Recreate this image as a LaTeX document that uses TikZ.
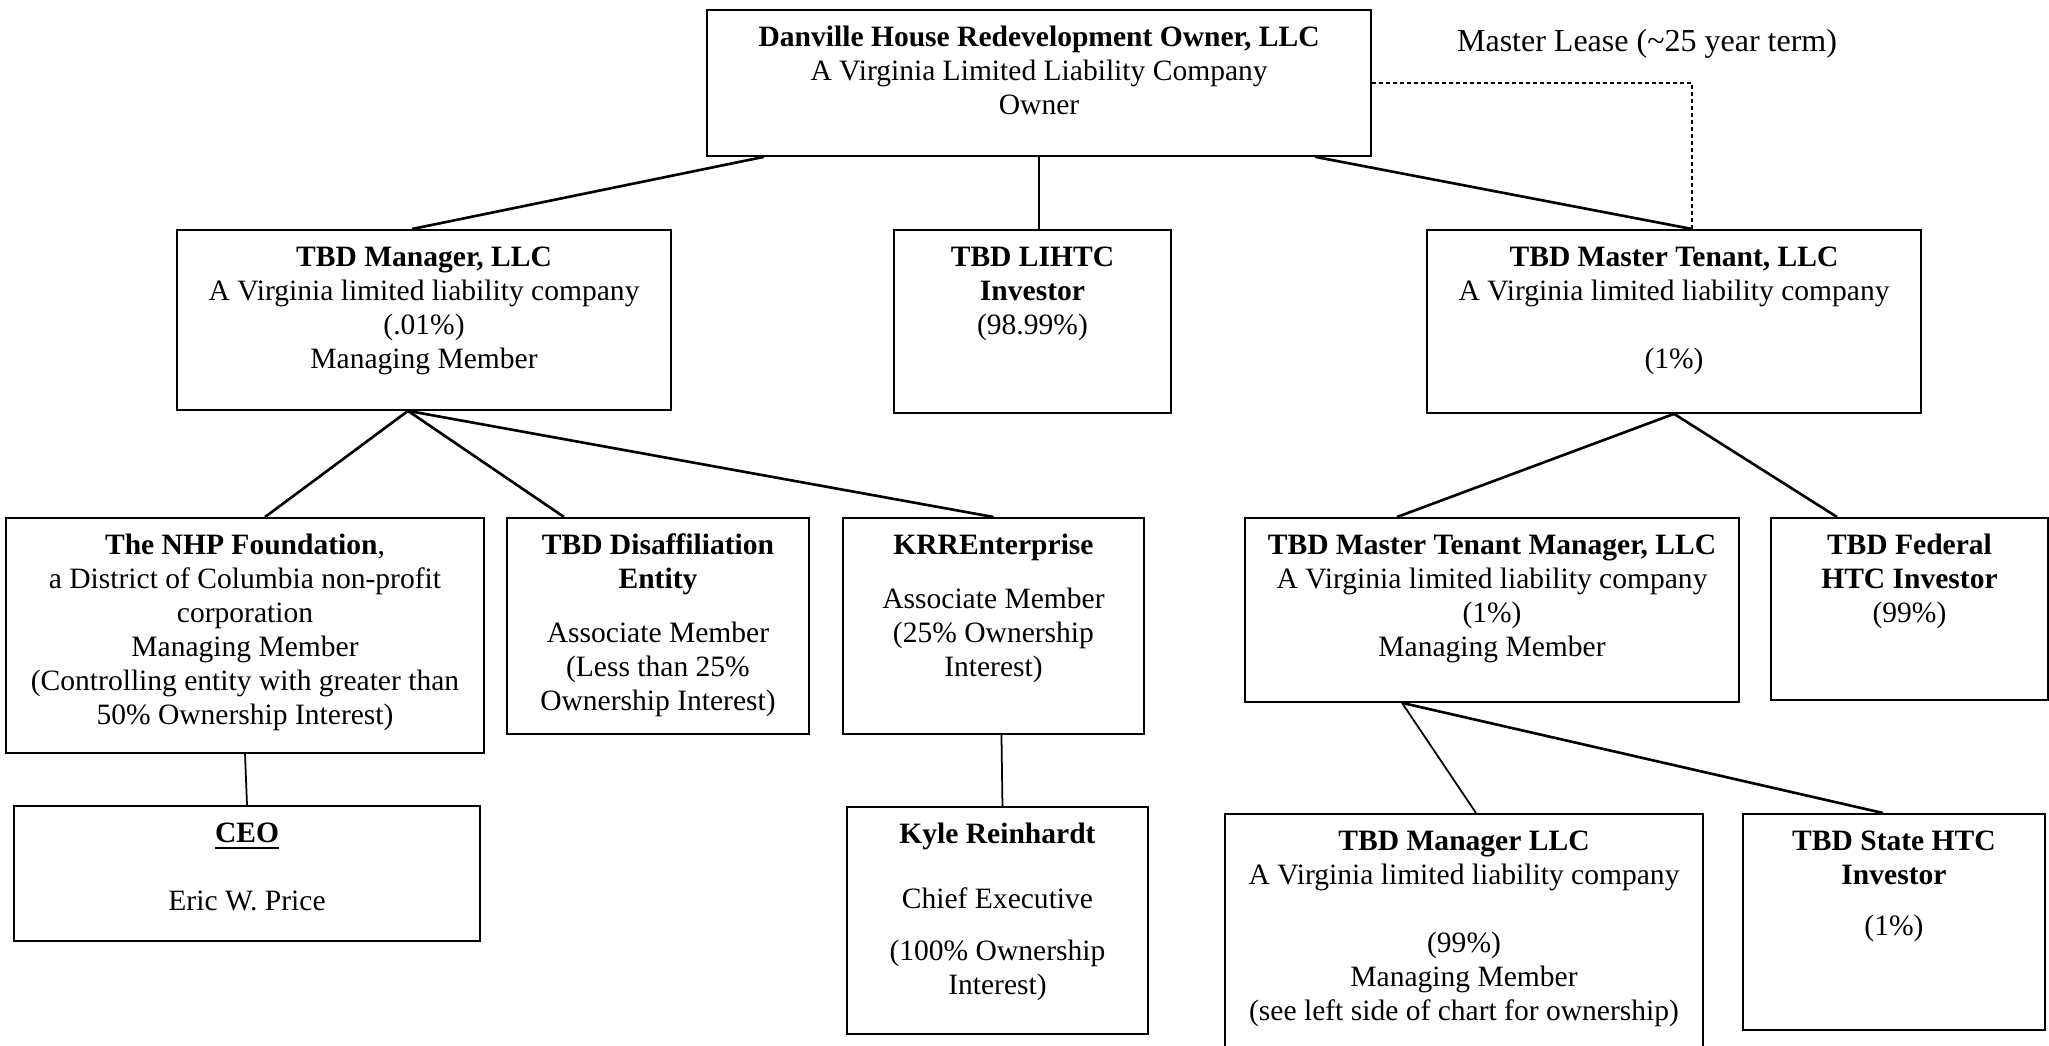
\documentclass[tikz,border=0pt]{standalone}
\usepackage{fontspec}
\setmainfont{Liberation Serif}
\usetikzlibrary{calc}
\newcommand\entbody[3]{\parbox[t][#2][t]{#1}{\vspace*{0.13cm}\centering\strut #3\par}}
\tikzset{
  ent/.style={draw, line width=0.5pt, inner sep=0pt, anchor=north west,
    font=\fontsize{8.4pt}{0.34cm}\selectfont},
  link/.style={line width=0.75pt},
  thinlink/.style={line width=0.5pt},
  lease/.style={line width=0.65pt, dash pattern=on 0.04cm off 0.03cm},
}
\begin{document}
\begin{tikzpicture}[x=0.01cm, y=-0.01cm]
\useasboundingbox (0,0) rectangle (2049,1045);
% owner
\node[ent] (own) at (706,9) {\entbody{6.64cm}{1.46cm}{\textbf{Danville House Redevelopment Owner, LLC}\\A Virginia Limited Liability Company\\Owner}};
\node[font=\fontsize{9.1pt}{0.36cm}\selectfont] (lease) at (1647,44) {Master Lease (\textasciitilde25 year term)};
% second row
\node[ent] (mgr) at (176,229) {\entbody{4.94cm}{1.80cm}{\textbf{TBD Manager, LLC}\\A Virginia limited liability company\\(.01\%)\\Managing Member}};
\node[ent] (lihtc) at (893,229) {\entbody{2.77cm}{1.83cm}{\textbf{TBD LIHTC}\\\textbf{Investor}\\(98.99\%)}};
\node[ent] (mt) at (1426,229) {\entbody{4.94cm}{1.83cm}{\textbf{TBD Master Tenant, LLC}\\A Virginia limited liability company\\[0.34cm](1\%)}};
% third row
\node[ent] (nhp) at (5,517) {\entbody{4.78cm}{2.35cm}{\textbf{The NHP Foundation},\\a District of Columbia non-profit\\corporation\\Managing Member\\(Controlling entity with greater than\\50\% Ownership Interest)}};
\node[ent] (dis) at (506,517) {\entbody{3.02cm}{2.16cm}{\textbf{TBD Disaffiliation}\\\textbf{Entity}\\[0.2cm]Associate Member\\(Less than 25\%\\Ownership Interest)}};
\node[ent] (krr) at (842,517) {\entbody{3.01cm}{2.16cm}{\textbf{KRREnterprise}\\[0.2cm]Associate Member\\(25\% Ownership\\Interest)}};
\node[ent] (mtm) at (1244,517) {\entbody{4.94cm}{1.84cm}{\textbf{TBD Master Tenant Manager, LLC}\\A Virginia limited liability company\\(1\%)\\Managing Member}};
\node[ent] (fed) at (1770,517) {\entbody{2.77cm}{1.82cm}{\textbf{TBD Federal}\\\textbf{HTC Investor}\\(99\%)}};
% fourth row
\node[ent] (ceo) at (13,805) {\entbody{4.66cm}{1.35cm}{\underline{\textbf{CEO}}\\[0.34cm]Eric W. Price}};
\node[ent] (kyle) at (846,806) {\entbody{3.01cm}{2.27cm}{\textbf{Kyle Reinhardt}\\[0.31cm]Chief Executive\\[0.18cm](100\% Ownership\\Interest)}};
\node[ent] (mgr2) at (1224,813) {\entbody{4.78cm}{2.60cm}{\textbf{TBD Manager LLC}\\A Virginia limited liability company\\[0.34cm](99\%)\\Managing Member\\(see left side of chart for ownership)}};
\node[ent] (state) at (1742,813) {\entbody{3.02cm}{2.16cm}{\textbf{TBD State HTC}\\\textbf{Investor}\\[0.17cm](1\%)}};
% connectors
\draw[link] ($(own.south west)+(58,0)$) -- ($(mgr.north west)+(236,0)$);
\draw[thinlink] (own.south) -- (own.south |- lihtc.north);
\draw[link] ($(own.south east)+(-57,0)$) -- ($(mt.north west)+(266,0)$);
\draw[lease] (own.east) -| ($(mt.north west)+(266,0)$);
\coordinate (mgrfan) at ($(mgr.south)+(-16,0)$);
\draw[link] (mgrfan) -- ($(nhp.north west)+(260,0)$);
\draw[link] (mgrfan) -- ($(dis.north west)+(58,0)$);
\draw[link] (mgrfan) -- (krr.north);
\draw[thinlink] (nhp.south) -- (ceo.north);
\draw[thinlink] ($(krr.south)+(8,0)$) -- ($(kyle.north)+(5,0)$);
\draw[link] (mt.south) -- ($(mtm.north west)+(153,0)$);
\draw[link] (mt.south) -- ($(fed.north west)+(67,0)$);
\coordinate (mtmfan) at ($(mtm.south west)+(158,0)$);
\draw[thinlink] (mtmfan) -- ($(mgr2.north west)+(252,0)$);
\draw[link] (mtmfan) -- ($(state.north west)+(141,0)$);
\end{tikzpicture}
\end{document}
